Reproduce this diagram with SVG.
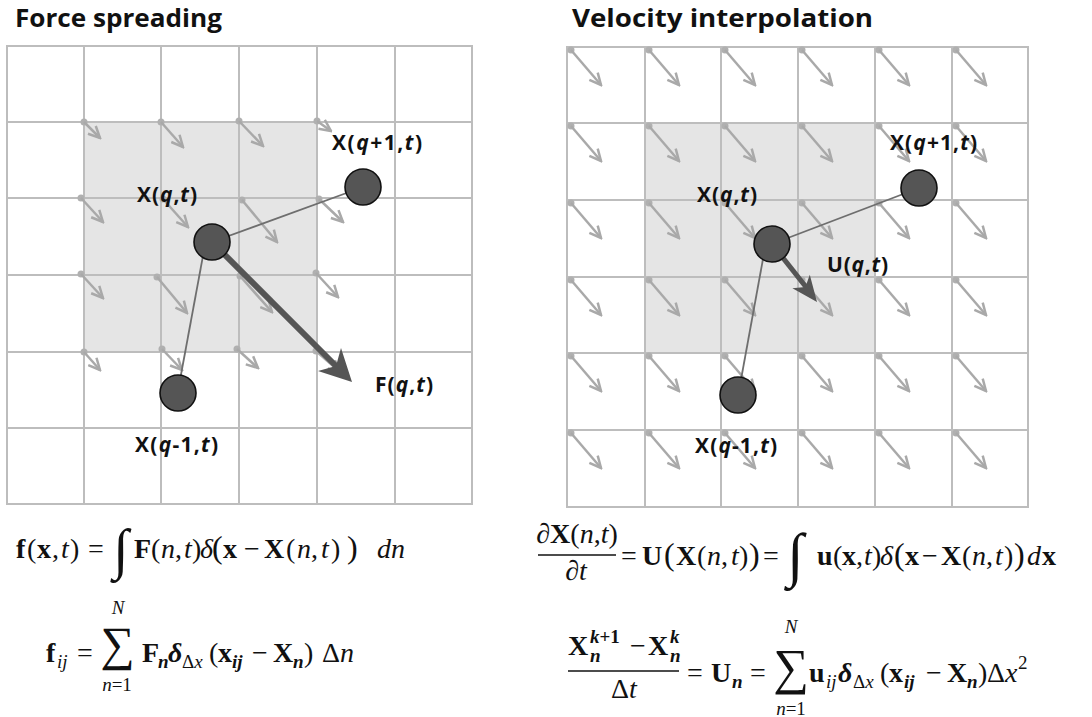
<svg xmlns="http://www.w3.org/2000/svg" width="1092" height="717" viewBox="0 0 1092 717">
<style>
.title{font-family:"Open Sans","Liberation Sans",sans-serif;font-weight:bold;font-size:25px;fill:#111}
.lbl{font-family:"Open Sans","Liberation Sans",sans-serif;font-weight:bold;font-size:21px;fill:#111}
.grid{stroke:#bdbdbd;stroke-width:2;fill:none}
.shade{fill:#e5e5e5}
.ga{stroke:#a9a9a9;stroke-width:2.5;fill:none;marker-end:url(#chev)}
.dot{fill:#b0b0b0}
.link{stroke:#6e6e6e;stroke-width:1.8}
.part{fill:#555;stroke:#111;stroke-width:1.6}
.big{stroke:#555;fill:none}
.head{fill:#555}
.m{font-family:"Liberation Serif","DejaVu Serif",serif;font-size:28px;fill:#111}
.s{font-size:19px}
.b{font-weight:bold}
.i{font-style:italic}
.bp{font-size:32px}
.op{font-family:"Liberation Serif","DejaVu Serif",serif;fill:#111}
</style>
<defs>
<marker id="chev" viewBox="0 0 14 14" refX="12.5" refY="7" markerWidth="14" markerHeight="14" markerUnits="userSpaceOnUse" orient="auto">
<path d="M1,1.5 L12.5,7 L1,12.5" fill="none" stroke="#a9a9a9" stroke-width="2.5"/>
</marker>
</defs>
<rect width="1092" height="717" fill="#fff"/>

<text class="title" x="15" y="27" textLength="207" lengthAdjust="spacingAndGlyphs">Force spreading</text>
<text class="title" x="572" y="27" textLength="301" lengthAdjust="spacingAndGlyphs">Velocity interpolation</text>

<!-- LEFT PANEL -->
<g id="left-grid">
<rect class="shade" x="84" y="122" width="233" height="230"/>
<path class="grid" d="M7,46H472V504H7Z M84,46V504 M161,46V504 M239,46V504 M317,46V504 M395,46V504 M7,122H472 M7,198H472 M7,275H472 M7,352H472 M7,428H472"/>
</g>
<g id="left-grid-vectors">
<circle class="dot" cx="84" cy="122" r="3.5"/><line class="ga" x1="84" y1="122" x2="100" y2="138"/>
<circle class="dot" cx="161" cy="122" r="3.5"/><line class="ga" x1="161" y1="122" x2="183" y2="147"/>
<circle class="dot" cx="239" cy="121" r="3.5"/><line class="ga" x1="239" y1="121" x2="263" y2="146"/>
<circle class="dot" cx="317" cy="121" r="3.5"/><line class="ga" x1="317" y1="121" x2="331" y2="131"/>
<circle class="dot" cx="81" cy="198" r="3.5"/><line class="ga" x1="81" y1="198" x2="103" y2="222"/>
<circle class="dot" cx="163" cy="199" r="3.5"/><line class="ga" x1="163" y1="199" x2="188" y2="227"/>
<circle class="dot" cx="242" cy="200" r="3.5"/><line class="ga" x1="242" y1="200" x2="277" y2="242"/>
<circle class="dot" cx="319" cy="199" r="3.5"/><line class="ga" x1="319" y1="199" x2="343" y2="222"/>
<circle class="dot" cx="81" cy="274" r="3.5"/><line class="ga" x1="81" y1="274" x2="103" y2="298"/>
<circle class="dot" cx="157" cy="277" r="3.5"/><line class="ga" x1="157" y1="277" x2="187" y2="313"/>
<circle class="dot" cx="240" cy="276" r="3.5"/><line class="ga" x1="240" y1="276" x2="272" y2="312"/>
<circle class="dot" cx="316" cy="273" r="3.5"/><line class="ga" x1="316" y1="273" x2="338" y2="297"/>
<circle class="dot" cx="84" cy="352" r="3.5"/><line class="ga" x1="84" y1="352" x2="100" y2="370"/>
<circle class="dot" cx="162" cy="349" r="3.5"/><line class="ga" x1="162" y1="349" x2="182" y2="370"/>
<circle class="dot" cx="237" cy="349" r="3.5"/><line class="ga" x1="237" y1="349" x2="258" y2="368"/>
<circle class="dot" cx="316" cy="351" r="3.5"/><line class="ga" x1="316" y1="351" x2="340" y2="372"/>
</g>
<g id="left-connectors">
<line class="link" x1="212" y1="242" x2="363" y2="187"/>
<line class="link" x1="205" y1="245" x2="180" y2="380"/>
<line class="big" stroke-width="6" x1="212" y1="242" x2="337" y2="367"/>
<polygon class="head" points="352,382 318,371 336,366 341,348"/>
</g>
<g id="left-X-q">
<circle class="part" cx="212" cy="242" r="18"/>
<text class="lbl" x="137" y="202" textLength="60">X(<tspan class="i">q</tspan>,<tspan class="i">t</tspan>)</text>
</g>
<g id="left-X-q-plus-1">
<circle class="part" cx="363" cy="187" r="18"/>
<text class="lbl" x="332" y="150" textLength="90">X(<tspan class="i">q</tspan>+1,<tspan class="i">t</tspan>)</text>
</g>
<g id="left-X-q-minus-1">
<circle class="part" cx="178" cy="393" r="18"/>
<text class="lbl" x="135" y="452" textLength="83">X(<tspan class="i">q</tspan>-1,<tspan class="i">t</tspan>)</text>
</g>
<g id="left-F-label">
<text class="lbl" x="375" y="392" textLength="58">F(<tspan class="i">q</tspan>,<tspan class="i">t</tspan>)</text>
</g>

<!-- RIGHT PANEL -->
<g id="right-grid">
<rect class="shade" x="645" y="123" width="230" height="230"/>
<path class="grid" d="M567,47H1028V507H567Z M645,47V507 M721,47V507 M798,47V507 M875,47V507 M952,47V507 M567,123H1028 M567,200H1028 M567,277H1028 M567,353H1028 M567,430H1028"/>
</g>
<g id="right-grid-vectors">
<circle class="dot" cx="571" cy="50" r="3.5"/><line class="ga" x1="571" y1="50" x2="601" y2="85"/>
<circle class="dot" cx="649" cy="50" r="3.5"/><line class="ga" x1="649" y1="50" x2="679" y2="85"/>
<circle class="dot" cx="725" cy="50" r="3.5"/><line class="ga" x1="725" y1="50" x2="755" y2="85"/>
<circle class="dot" cx="802" cy="50" r="3.5"/><line class="ga" x1="802" y1="50" x2="832" y2="85"/>
<circle class="dot" cx="879" cy="50" r="3.5"/><line class="ga" x1="879" y1="50" x2="909" y2="85"/>
<circle class="dot" cx="956" cy="50" r="3.5"/><line class="ga" x1="956" y1="50" x2="986" y2="85"/>
<circle class="dot" cx="571" cy="126" r="3.5"/><line class="ga" x1="571" y1="126" x2="601" y2="161"/>
<circle class="dot" cx="649" cy="126" r="3.5"/><line class="ga" x1="649" y1="126" x2="679" y2="161"/>
<circle class="dot" cx="725" cy="126" r="3.5"/><line class="ga" x1="725" y1="126" x2="755" y2="161"/>
<circle class="dot" cx="802" cy="126" r="3.5"/><line class="ga" x1="802" y1="126" x2="832" y2="161"/>
<circle class="dot" cx="879" cy="126" r="3.5"/><line class="ga" x1="879" y1="126" x2="909" y2="161"/>
<circle class="dot" cx="956" cy="126" r="3.5"/><line class="ga" x1="956" y1="126" x2="986" y2="161"/>
<circle class="dot" cx="571" cy="203" r="3.5"/><line class="ga" x1="571" y1="203" x2="601" y2="238"/>
<circle class="dot" cx="649" cy="203" r="3.5"/><line class="ga" x1="649" y1="203" x2="679" y2="238"/>
<circle class="dot" cx="725" cy="203" r="3.5"/><line class="ga" x1="725" y1="203" x2="755" y2="238"/>
<circle class="dot" cx="802" cy="203" r="3.5"/><line class="ga" x1="802" y1="203" x2="832" y2="238"/>
<circle class="dot" cx="879" cy="203" r="3.5"/><line class="ga" x1="879" y1="203" x2="909" y2="238"/>
<circle class="dot" cx="956" cy="203" r="3.5"/><line class="ga" x1="956" y1="203" x2="986" y2="238"/>
<circle class="dot" cx="571" cy="280" r="3.5"/><line class="ga" x1="571" y1="280" x2="601" y2="315"/>
<circle class="dot" cx="649" cy="280" r="3.5"/><line class="ga" x1="649" y1="280" x2="679" y2="315"/>
<circle class="dot" cx="725" cy="280" r="3.5"/><line class="ga" x1="725" y1="280" x2="755" y2="315"/>
<circle class="dot" cx="802" cy="280" r="3.5"/><line class="ga" x1="802" y1="280" x2="832" y2="315"/>
<circle class="dot" cx="879" cy="280" r="3.5"/><line class="ga" x1="879" y1="280" x2="909" y2="315"/>
<circle class="dot" cx="956" cy="280" r="3.5"/><line class="ga" x1="956" y1="280" x2="986" y2="315"/>
<circle class="dot" cx="571" cy="356" r="3.5"/><line class="ga" x1="571" y1="356" x2="601" y2="391"/>
<circle class="dot" cx="649" cy="356" r="3.5"/><line class="ga" x1="649" y1="356" x2="679" y2="391"/>
<circle class="dot" cx="725" cy="356" r="3.5"/><line class="ga" x1="725" y1="356" x2="755" y2="391"/>
<circle class="dot" cx="802" cy="356" r="3.5"/><line class="ga" x1="802" y1="356" x2="832" y2="391"/>
<circle class="dot" cx="879" cy="356" r="3.5"/><line class="ga" x1="879" y1="356" x2="909" y2="391"/>
<circle class="dot" cx="956" cy="356" r="3.5"/><line class="ga" x1="956" y1="356" x2="986" y2="391"/>
<circle class="dot" cx="571" cy="433" r="3.5"/><line class="ga" x1="571" y1="433" x2="601" y2="468"/>
<circle class="dot" cx="649" cy="433" r="3.5"/><line class="ga" x1="649" y1="433" x2="679" y2="468"/>
<circle class="dot" cx="725" cy="433" r="3.5"/><line class="ga" x1="725" y1="433" x2="755" y2="468"/>
<circle class="dot" cx="802" cy="433" r="3.5"/><line class="ga" x1="802" y1="433" x2="832" y2="468"/>
<circle class="dot" cx="879" cy="433" r="3.5"/><line class="ga" x1="879" y1="433" x2="909" y2="468"/>
<circle class="dot" cx="956" cy="433" r="3.5"/><line class="ga" x1="956" y1="433" x2="986" y2="468"/>
</g>
<g id="right-connectors">
<line class="link" x1="772" y1="244" x2="919" y2="188"/>
<line class="link" x1="765" y1="248" x2="740" y2="385"/>
<line class="big" stroke-width="5" x1="772" y1="244" x2="806" y2="287"/>
<polygon class="head" points="817,302 792.4,288.2 805.4,287 809.8,274.8"/>
</g>
<g id="right-X-q">
<circle class="part" cx="772" cy="244" r="18"/>
<text class="lbl" x="697" y="202" textLength="60">X(<tspan class="i">q</tspan>,<tspan class="i">t</tspan>)</text>
</g>
<g id="right-X-q-plus-1">
<circle class="part" cx="919" cy="188" r="18"/>
<text class="lbl" x="890" y="150" textLength="87">X(<tspan class="i">q</tspan>+1,<tspan class="i">t</tspan>)</text>
</g>
<g id="right-X-q-minus-1">
<circle class="part" cx="738" cy="395" r="18"/>
<text class="lbl" x="695" y="453" textLength="82">X(<tspan class="i">q</tspan>-1,<tspan class="i">t</tspan>)</text>
</g>
<g id="right-U-label">
<text class="lbl" x="827" y="272" textLength="61">U(<tspan class="i">q</tspan>,<tspan class="i">t</tspan>)</text>
</g>

<!-- EQUATIONS LEFT -->
<g id="eq-left-1">
<text class="m" y="558"><tspan x="16" class="b">f</tspan><tspan x="27">(</tspan><tspan x="37" class="b">x</tspan><tspan x="52">,</tspan><tspan x="61" class="i">t</tspan><tspan x="70">)</tspan><tspan x="88">=</tspan><tspan x="134" class="b">F</tspan><tspan x="151">(</tspan><tspan x="161" class="i">n</tspan><tspan x="175">,</tspan><tspan x="184" class="i">t</tspan><tspan x="192">)</tspan><tspan x="200" class="i">δ</tspan><tspan x="212" class="bp">(</tspan><tspan x="223" class="b">x</tspan><tspan x="244">−</tspan><tspan x="264" class="b">X</tspan><tspan x="286">(</tspan><tspan x="297" class="i">n</tspan><tspan x="311">,</tspan><tspan x="321" class="i">t</tspan><tspan x="331">)</tspan><tspan x="347" class="bp">)</tspan><tspan x="377" class="i">dn</tspan></text>
<text class="op" x="113" y="568" font-size="56">∫</text>
</g>
<g id="eq-left-2">
<text class="m" y="662"><tspan x="46" class="b">f</tspan><tspan x="57" dy="6" class="s i">ij</tspan><tspan x="77" dy="-6">=</tspan><tspan x="142" class="b">F</tspan><tspan x="158" dy="6" class="s b i">n</tspan><tspan x="168" dy="-6" class="b i">δ</tspan><tspan x="182" dy="6" class="s">Δ<tspan class="i">x</tspan></tspan><tspan x="209" dy="-6">(</tspan><tspan x="218" class="b">x</tspan><tspan x="232" dy="6" class="s b i">ij</tspan><tspan x="252" dy="-6">−</tspan><tspan x="273" class="b">X</tspan><tspan x="293" dy="6" class="s b i">n</tspan><tspan x="304" dy="-6">)</tspan><tspan x="322">Δ<tspan class="i">n</tspan></tspan></text>
<text class="op" x="117.5" y="660" font-size="48" text-anchor="middle">∑</text>
<text class="m s i" x="118" y="614" text-anchor="middle">N</text>
<text class="m s" x="117" y="691" text-anchor="middle"><tspan class="i">n</tspan>=1</text>
</g>

<!-- EQUATIONS RIGHT -->
<g id="eq-right-1">
<text class="m" x="577" y="543" text-anchor="middle" font-size="27"><tspan class="i">∂</tspan><tspan class="b">X</tspan>(<tspan class="i">n</tspan>,<tspan class="i">t</tspan>)</text>
<line x1="538" y1="555" x2="616" y2="555" stroke="#111" stroke-width="1.3"/>
<text class="m" x="576" y="580" text-anchor="middle" font-size="27"><tspan class="i">∂t</tspan></text>
<text class="m" y="565"><tspan x="621">=</tspan><tspan x="642" class="b">U</tspan><tspan x="664" class="bp">(</tspan><tspan x="676" class="b">X</tspan><tspan x="697">(</tspan><tspan x="707" class="i">n</tspan><tspan x="721">,</tspan><tspan x="731" class="i">t</tspan><tspan x="739">)</tspan><tspan x="749" class="bp">)</tspan><tspan x="763">=</tspan><tspan x="817" class="b">u</tspan><tspan x="833">(</tspan><tspan x="842" class="b">x</tspan><tspan x="856">,</tspan><tspan x="864" class="i">t</tspan><tspan x="872">)</tspan><tspan x="880" class="i">δ</tspan><tspan x="894" class="bp">(</tspan><tspan x="905" class="b">x</tspan><tspan x="922">−</tspan><tspan x="941" class="b">X</tspan><tspan x="962">(</tspan><tspan x="972" class="i">n</tspan><tspan x="986">,</tspan><tspan x="995" class="i">t</tspan><tspan x="1004">)</tspan><tspan x="1014" class="bp">)</tspan><tspan x="1027" class="i">d</tspan><tspan x="1042" class="b">x</tspan></text>
<text class="op" x="787" y="575" font-size="60">∫</text>
</g>
<g id="eq-right-2">
<text class="m" y="655"><tspan x="568" class="b">X</tspan><tspan x="590" dy="-12" class="s b i">k<tspan font-style="normal">+1</tspan></tspan><tspan x="590" dy="19" class="s b i">n</tspan><tspan x="630" dy="-7">−</tspan><tspan x="648" class="b">X</tspan><tspan x="670" dy="-12" class="s b i">k</tspan><tspan x="670" dy="19" class="s b i">n</tspan></text>
<line x1="568" y1="671" x2="679" y2="671" stroke="#111" stroke-width="1.3"/>
<text class="m" x="611" y="698">Δ<tspan class="i">t</tspan></text>
<text class="m" y="682"><tspan x="687">=</tspan><tspan x="711" class="b">U</tspan><tspan x="732" dy="6" class="s b i">n</tspan><tspan x="750" dy="-6">=</tspan><tspan x="809" class="b">u</tspan><tspan x="826" dy="6" class="s i">ij</tspan><tspan x="838" dy="-6" class="b i">δ</tspan><tspan x="853" dy="6" class="s">Δ<tspan class="i">x</tspan></tspan><tspan x="880" dy="-6">(</tspan><tspan x="889" class="b">x</tspan><tspan x="904" dy="6" class="s b i">ij</tspan><tspan x="926" dy="-6">−</tspan><tspan x="947" class="b">X</tspan><tspan x="967" dy="6" class="s b i">n</tspan><tspan x="978" dy="-6">)</tspan><tspan x="987">Δ<tspan class="i">x</tspan></tspan><tspan x="1018" dy="-13" class="s">2</tspan></text>
<text class="op" x="791" y="684" font-size="50" text-anchor="middle">∑</text>
<text class="m s i" x="791" y="633" text-anchor="middle">N</text>
<text class="m s" x="791" y="715" text-anchor="middle"><tspan class="i">n</tspan>=1</text>
</g>
</svg>
